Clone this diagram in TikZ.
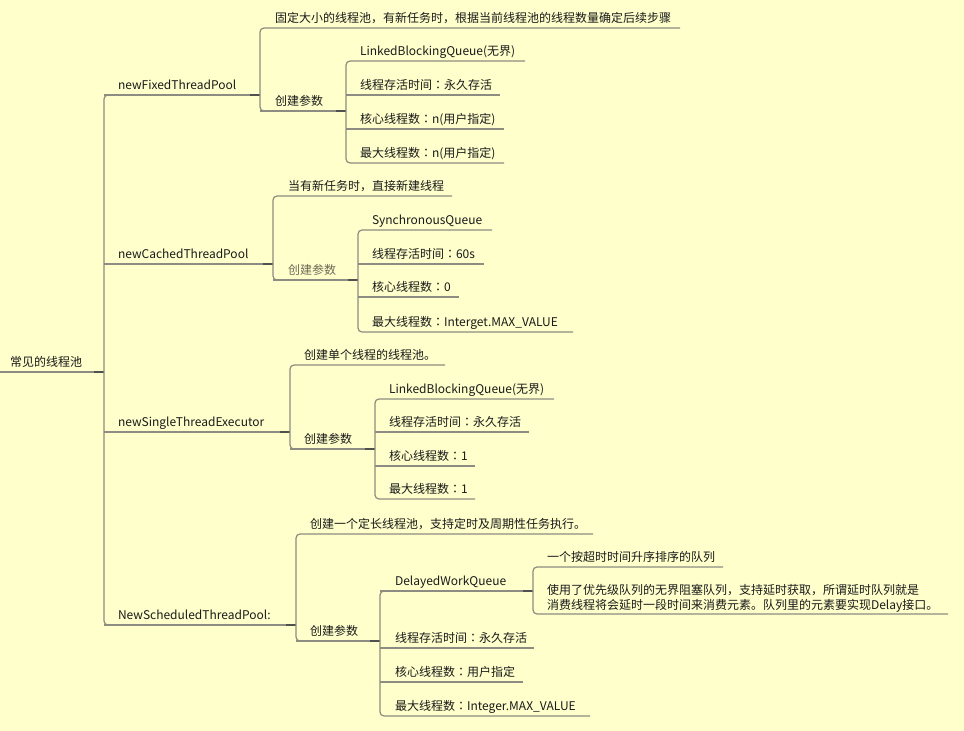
\documentclass[tikz,border=0pt]{standalone}
\usepackage{fontspec}
\setmainfont{Noto Sans CJK SC}
\newfontfamily\tcfont{Noto Sans CJK TC}
\newcommand\cl{{\tcfont ：}}
\begin{document}
\definecolor{bg}{HTML}{FFFFCC}
\definecolor{lnc}{HTML}{8C8C82}
\definecolor{jnc}{HTML}{505050}
\definecolor{txc}{HTML}{1A1A1A}
\definecolor{gtx}{HTML}{6E6A58}
\tikzset{
  ln/.style={draw=lnc, line width=0.9pt},
  jn/.style={draw=jnc, line width=1pt},
  txt/.style={anchor=base west, inner sep=0pt, outer sep=0pt, text=txc, font=\fontsize{9pt}{11.25pt}\selectfont},
}
\newcommand\mm[6]{%
  \coordinate (#1-s) at (#2,#3);
  \coordinate (#1-e) at (#4,#3);
  \node[txt] (#1) at (#5,#3-5.5) {#6};
}
\newcommand\br[3]{%
  \draw[ln] (#1-s) -- (#1-e);
  \draw[jn] ([xshift=-7.5pt]#1-e) -- (#1-e);
  \draw[ln, rounded corners=3pt] (#2-e) -- (#2-s) -- (#3-s) -- (#3-e);
}
\newcommand\lf[1]{\draw[ln] (#1-s) -- (#1-e);}
\begin{tikzpicture}[x=0.75pt, y=-0.75pt]
\fill[bg] (0,0) rectangle (964,731);
\useasboundingbox (0,0) rectangle (964,731);
% root
\mm{R}{0}{372}{104}{10}{常见的线程池}
% level 1
\mm{A}{104}{95}{260}{118}{newFixedThreadPool}
\mm{B}{104}{264}{273}{118}{newCachedThreadPool}
\mm{C}{104}{432}{290}{118}{newSingleThreadExecutor}
\mm{D}{104}{625}{296}{118}{NewScheduledThreadPool:}
% A
\mm{A1}{260}{28}{680}{275}{固定大小的线程池，有新任务时，根据当前线程池的线程数量确定后续步骤}
\mm{A2}{260}{111}{346}{275}{创建参数}
\mm{A21}{346}{61}{525}{360}{LinkedBlockingQueue(无界)}
\mm{A22}{346}{95}{500}{360}{线程存活时间\cl 永久存活}
\mm{A23}{346}{129}{504}{360}{核心线程数\cl n(用户指定)}
\mm{A24}{346}{163}{504}{360}{最大线程数\cl n(用户指定)}
% B
\mm{B1}{273}{196}{452}{288}{当有新任务时，直接新建线程}
\mm{B2}{273}{280}{358}{288}{\textcolor{gtx}{创建参数}}
\mm{B21}{358}{230}{492}{372}{SynchronousQueue}
\mm{B22}{358}{264}{484}{372}{线程存活时间\cl 60s}
\mm{B23}{358}{297}{459}{372}{核心线程数\cl 0}
\mm{B24}{358}{332}{573}{372}{最大线程数\cl Interget.MAX\_VALUE}
% C
\mm{C1}{290}{365}{445}{304}{创建单个线程的线程池。}
\mm{C2}{290}{449}{375}{304}{创建参数}
\mm{C21}{375}{399}{554}{389}{LinkedBlockingQueue(无界)}
\mm{C22}{375}{432}{529}{389}{线程存活时间\cl 永久存活}
\mm{C23}{375}{466}{475}{389}{核心线程数\cl 1}
\mm{C24}{375}{499}{475}{389}{最大线程数\cl 1}
% D
\mm{D1}{296}{534}{593}{310}{创建一个定长线程池，支持定时及周期性任务执行。}
\mm{D2}{296}{641}{380}{310}{创建参数}
\mm{D21}{380}{591}{533}{395}{DelayedWorkQueue}
\mm{D22}{380}{648}{534}{395}{线程存活时间\cl 永久存活}
\mm{D23}{380}{682}{523}{395}{核心线程数\cl 用户指定}
\mm{D24}{380}{716}{590}{395}{最大线程数\cl Integer.MAX\_VALUE}
\mm{D211}{533}{567}{723}{547}{一个按超时时间升序排序的队列}
\coordinate (D212-s) at (533,614);
\coordinate (D212-e) at (948,614);
\node[txt, align=left] (D212) at (547,614-4.5) {使用了优先级队列的无界阻塞队列，支持延时获取，所谓延时队列就是\\消费线程将会延时一段时间来消费元素。队列里的元素要实现Delay接口。};
% connectors
\br{R}{A}{D}
\lf{B}\lf{C}
\br{A}{A1}{A2}
\br{A2}{A21}{A24}\lf{A22}\lf{A23}
\br{B}{B1}{B2}
\br{B2}{B21}{B24}\lf{B22}\lf{B23}
\br{C}{C1}{C2}
\br{C2}{C21}{C24}\lf{C22}\lf{C23}
\br{D}{D1}{D2}
\br{D2}{D21}{D24}\lf{D22}\lf{D23}
\br{D21}{D211}{D212}
\end{tikzpicture}
\end{document}
